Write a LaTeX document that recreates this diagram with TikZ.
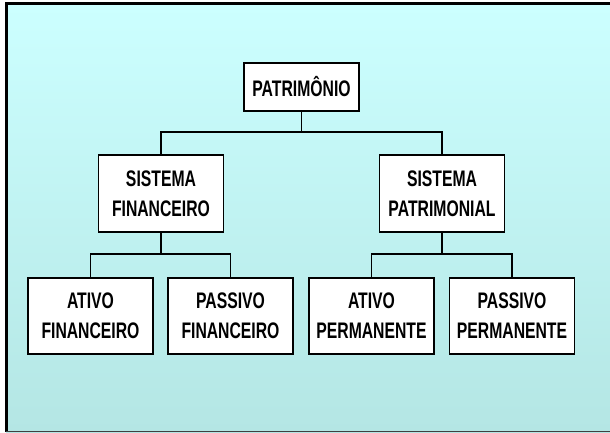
\documentclass[tikz,border=0pt]{standalone}
\usepackage{fontspec}
\newfontfamily\boxfont{Liberation Sans}[FakeStretch=0.70]
\begin{document}
\begin{tikzpicture}[x=1pt,y=-1pt,
  orgbox/.style={draw=black, line width=1.5pt, fill=white, align=center, inner sep=0pt,
    minimum width=125pt, minimum height=77pt,
    font=\boxfont\bfseries\fontsize{22.5}{30}\selectfont},
  link/.style={draw=black, line width=1.5pt}]
\useasboundingbox (0,0) rectangle (610,432);
\fill[white] (0,0) rectangle (610,432);
\shade[top color={rgb,255:red,204;green,255;blue,255}, bottom color={rgb,255:red,180;green,230;blue,228}] (6,4) rectangle (610,432);
\draw[black, line width=3pt] (6,432) -- (6,3.5) -- (610,3.5);
\draw[gray!50!black, line width=1pt] (6,431.5) -- (610,431.5);
% nodes
\node[orgbox, minimum width=115pt, minimum height=48pt] (p) at (301.5,87) {PATRIMÔNIO};
\node[orgbox] (sf) at (161,193.5) {SISTEMA\\FINANCEIRO};
\node[orgbox] (sp) at (442,193.5) {SISTEMA\\PATRIMONIAL};
\node[orgbox, minimum height=76pt] (af) at (90.5,316) {ATIVO\\FINANCEIRO};
\node[orgbox, minimum height=76pt] (pf) at (230.5,316) {PASSIVO\\FINANCEIRO};
\node[orgbox, minimum height=76pt] (ap) at (371.5,316) {ATIVO\\PERMANENTE};
\node[orgbox, minimum height=76pt] (pp) at (512,316) {PASSIVO\\PERMANENTE};
% junctions
\coordinate (j1) at (301.5,132);
\coordinate (j2) at (161,254);
\coordinate (j3) at (442,254);
% connectors
\draw[link] (p.south) -- (j1);
\draw[link] (sf.north) -- (sf.north |- j1) -- (sp.north |- j1) -- (sp.north);
\draw[link] (sf.south) -- (j2);
\draw[link] (af.north) -- (af.north |- j2) -- (pf.north |- j2) -- (pf.north);
\draw[link] (sp.south) -- (j3);
\draw[link] (ap.north) -- (ap.north |- j3) -- (pp.north |- j3) -- (pp.north);
\end{tikzpicture}
\end{document}
